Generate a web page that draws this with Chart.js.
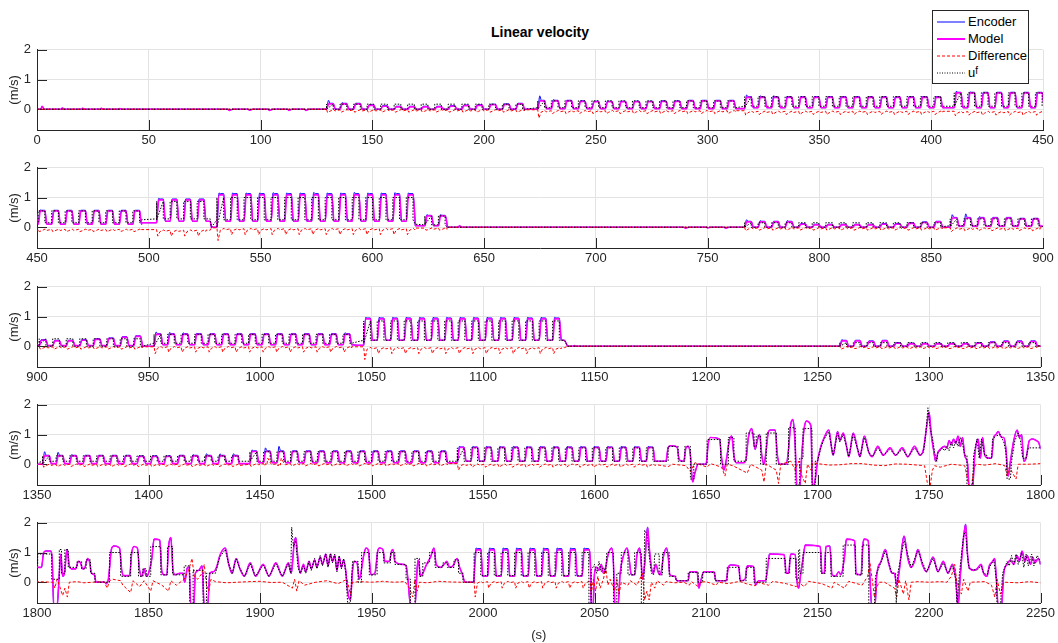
<!DOCTYPE html>
<html><head><meta charset="utf-8">
<script src="https://cdn.jsdelivr.net/npm/chart.js@4.4.0/dist/chart.umd.min.js"></script>
<style>
body{margin:0;background:#fff;width:1058px;height:643px;overflow:hidden;position:relative;font-family:"Liberation Sans",Arial,sans-serif;}
.pane{position:absolute;left:0;width:1058px;}
#title{position:absolute;left:0;width:1080px;top:24px;text-align:center;font-weight:bold;font-size:14px;color:#000;line-height:16px;}
#legend{position:absolute;left:932px;top:10px;width:97px;height:74px;box-sizing:border-box;border:1px solid #262626;background:#fff;font-size:13px;color:#000;padding-top:2px;z-index:5;}
#legend .row{height:17px;display:flex;align-items:center;white-space:nowrap;}
#legend svg{margin-left:4px;margin-right:3px;}
#legend sup{font-size:10px;position:relative;top:-2px;}
</style></head><body>
<div id="title">Linear velocity</div>
<div id="legend">
 <div class="row"><svg width="28" height="6"><line x1="0" y1="3" x2="28" y2="3" stroke="#0000ff" stroke-width="1"/></svg>Encoder</div>
 <div class="row"><svg width="28" height="6"><line x1="0" y1="3" x2="28" y2="3" stroke="#ff00ff" stroke-width="2"/></svg>Model</div>
 <div class="row"><svg width="28" height="6"><line x1="0" y1="3" x2="28" y2="3" stroke="#ff0000" stroke-width="1" stroke-dasharray="3,2"/></svg>Difference</div>
 <div class="row"><svg width="28" height="6"><line x1="0" y1="3" x2="28" y2="3" stroke="#000" stroke-width="1" stroke-dasharray="1,1.5"/></svg>u<sup>f</sup></div>
</div>
<div class="pane" id="p0"><canvas id="c0"></canvas></div>
<div class="pane" id="p1"><canvas id="c1"></canvas></div>
<div class="pane" id="p2"><canvas id="c2"></canvas></div>
<div class="pane" id="p3"><canvas id="c3"></canvas></div>
<div class="pane" id="p4"><canvas id="c4"></canvas></div>
<script>
// ---------- axes ----------
const panelRanges = [[0,450],[450,900],[900,1350],[1350,1800],[1800,2250]];
const xTickStep = 50;
const yTickValues = [0,1,2];
const yMin = -0.7, yMax = 2;

// ---------- repeated pulse blocks ----------
const pulsePeriod = 6.05;   // s between pulse starts
const pulseOn = 3.0;        // s the command stays high
const blockStart   = [129.5,224,316.5,410.3,450.5,503.5,530.5,623.5,766.5,858.5,901,952.5,1046.5,1260,1352.5,1445.5,1538.5,1996];
const blockCount   = [15,15,15,7,8,4,15,2,15,7,8,15,15,15,15,15,15,9];
const blockUfHigh  = [0.17,0.28,0.42,0.55,0.55,0.87,1.0,0.38,0.15,0.28,0.25,0.4,0.85,0.12,0.28,0.42,0.55,1.0];
const blockUfLow   = [0,0.05,0.1,0.1,0.15,0.28,0.25,0.08,0,0.05,0,0.1,0.2,0,0.1,0.1,0.1,0.22];
const blockEncLow  = [0,0.02,0.05,0.05,0.1,0.2,0.2,0.05,0,0.03,0.02,0.05,0.2,0,0.02,0.05,0.1,0.2];
const blockEncHold = [0.2,0.3,0.42,0.57,0.57,0.95,1.13,0.4,0.2,0.33,0.35,0.42,0.95,0.2,0.3,0.45,0.58,1.13];
const blockModelGap= [0.02,0.02,0.02,0.02,0.02,0.03,0.04,0.02,0.02,0.02,0.02,0.02,0.03,0.02,0.02,0.02,0.02,0.04];
const blockEncPeaks = [
 [0.3,0.22,0.2,0.15,0.12,0.1,0.1,0.1,0.1,0.12,0.14,0.15,0.17,0.18,0.2],
 [0.45,0.32,0.3,0.28,0.27,0.27,0.27,0.27,0.27,0.28,0.28,0.3,0.3,0.3,0.3],
 [0.48,0.45,0.45,0.43,0.42,0.42,0.42,0.42,0.42,0.42,0.42,0.42,0.42,0.42,0.42],
 [0.6,0.58,0.57,0.57,0.57,0.57,0.57],
 [0.58,0.57,0.57,0.57,0.57,0.57,0.57,0.57],
 [0.97,0.95,0.95,0.95],
 [1.15,1.15,1.15,1.15,1.16,1.15,1.15,1.17,1.15,1.15,1.17,1.15,1.15,1.16,1.15],
 [0.42,0.42],
 [0.25,0.22,0.2,0.22,0.12,0.1,0.1,0.1,0.1,0.1,0.12,0.12,0.15,0.18,0.2],
 [0.42,0.45,0.35,0.33,0.33,0.3,0.3],
 [0.22,0.2,0.2,0.22,0.25,0.28,0.32,0.35],
 [0.48,0.46,0.45,0.43,0.42,0.42,0.42,0.42,0.42,0.42,0.42,0.42,0.42,0.42,0.45],
 [0.97,0.97,0.97,0.97,0.97,0.97,0.97,0.97,0.97,0.97,0.97,0.97,0.97,0.97,0.97],
 [0.22,0.2,0.18,0.2,0.12,0.1,0.1,0.1,0.1,0.1,0.12,0.15,0.18,0.18,0.18],
 [0.42,0.4,0.32,0.3,0.3,0.3,0.3,0.28,0.28,0.28,0.3,0.32,0.35,0.35,0.35],
 [0.48,0.55,0.6,0.45,0.45,0.45,0.45,0.45,0.45,0.45,0.45,0.45,0.45,0.45,0.45],
 [0.6,0.6,0.6,0.6,0.6,0.6,0.6,0.6,0.6,0.6,0.6,0.6,0.6,0.6,0.6],
 [1.15,1.15,1.15,1.15,1.15,1.15,1.15,1.15,1.15]
];
const blockDiffBase     = [-0.02,-0.05,-0.07,-0.08,-0.07,-0.1,-0.05,-0.03,-0.02,-0.03,-0.02,-0.02,-0.05,-0.02,0,0.02,0,0.02];
const blockDiffDip      = [-0.1,-0.15,-0.18,-0.2,-0.15,-0.3,-0.25,-0.1,-0.1,-0.12,-0.1,-0.2,-0.25,-0.08,-0.08,-0.06,-0.1,-0.2];
const blockDiffFirstDip = [-0.12,-0.3,-0.2,-0.22,-0.15,-0.3,-0.45,-0.1,-0.12,-0.15,-0.1,-0.25,-0.45,-0.1,-0.1,-0.08,-0.2,-0.5];

// ---------- quiet stretches: [from, to, encoder, uf, difference] ----------
const flatFrom = [0,218.1,312.6,405.2,496.8,525.6,528,619.2,633.5,855.1,898.7,947.3,1041.1,1135.2,1138,1348.6,1440.6,1534.1];
const flatTo   = [129.5,224,316.5,410.3,503.5,527.5,530.5,623.5,766.5,858.5,901,952.5,1046.5,1136.5,1260,1352.5,1445.5,1538.5];
const flatEnc  = [0,0,0.02,0.05,0.15,0.2,0,0.05,0,0,0.03,0,0.03,0.2,0,0,0.02,0.05];
const flatUf   = [0,0,0.05,0.1,0.25,0.28,0,0.1,0,0.02,0.05,0,0.1,0.2,0,0,0.1,0.1];
const flatDiff = [0,-0.02,-0.05,-0.07,-0.08,-0.1,-0.02,-0.03,0,-0.02,-0.02,-0.02,-0.02,-0.05,0,0,0,0.02];

// ---------- free-running stretches traced point by point [t, value] ----------
const encTrace = [
[1.7,0],[2.3,0.1],[3.2,0],[10.7,0],[11.3,0.04],[12.3,0],[19.8,0],[20.4,0.03],[21.4,0],[28.1,0],[28.7,0.03],[29.7,0],[36.5,0],[37.1,0.02],[38.1,0],
[85.3,0],[86,-0.04],[87.5,0],[94.3,0],[95,-0.03],[96.5,0],[103.3,0],[104,-0.04],[105.5,0],[112,0],[112.7,-0.04],[114,0],[119.6,0],[120.3,-0.04],[121.6,0],
[638.4,0],[639,0.05],[640,0],[739.3,0],[740,-0.03],[741.5,0],[749.3,0],[750,-0.02],[751.5,0],[757.3,0],[758,-0.03],[759.5,0],[1140.4,0],[1141,0.02],[1142,0],
[1628,0.1],[1632,0.1],[1633,0.55],[1634,0.62],[1637,0.58],[1638,0.15],[1640,0.1],[1641,0.55],[1642,0.6],[1643,0.3],[1644,-0.6],[1645,-0.3],[1646.5,0],[1650,0],[1651,0.7],[1652,0.9],[1656,0.85],[1657,0.2],[1658,-0.2],[1659,0.1],[1660.5,0.8],[1661.5,0.95],[1662.5,0.3],[1663.5,0.05],[1667,0.05],[1668,0.2],[1669,0.9],[1670.5,1.2],[1672,0.5],[1673,0.8],[1674,1.0],[1675,0.3],[1676,0],[1677,0.5],[1678,1.1],[1679,1.15],[1681,1.15],[1682,0.3],[1683,0],[1686,0],[1687,0.5],[1688,1.35],[1689,1.5],[1690,0.6],[1690.8,-0.8],[1692,-0.8],[1693,0.4],[1694,1.2],[1695,1.45],[1697,1.3],[1697.8,-0.8],[1699,-0.5],[1700,0.1],[1701.5,0.6],[1703,0.9],[1705,1.15],[1707,0.3],[1709,1.1],[1710,0.8],[1711.5,1.05],[1713,0.6],[1714,0.25],[1716,1.05],[1718,0.5],[1719,0.25],[1721,0.95],[1723,0.4],[1724.5,0.25],[1727,0.6],[1729.5,0.3],[1732.5,0.55],[1735,0.3],[1738,0.55],[1740.5,0.25],[1743.5,0.6],[1746,0.3],[1747.5,0.5],[1749,1.3],[1750,1.75],[1751,1.0],[1752,0.5],[1753,0.1],[1754,0.4],[1755,0.5],[1757,0.6],[1758,0.55],[1759,0.8],[1760,0.65],[1761,0.85],[1762,0.7],[1763,0.95],[1764,0.6],[1765,0.9],[1766,0.3],[1767.3,0],[1768,-0.8],[1769.5,-0.8],[1770.5,0.3],[1772,0.85],[1773,0.2],[1774,0.9],[1775,0.3],[1777,0.2],[1778,0.2],[1779,0.9],[1780,1.0],[1781,1.1],[1782.5,0.9],[1783.5,0.9],[1784.5,0.5],[1785.5,-0.4],[1786.5,0.1],[1788,0.8],[1789.5,1.15],[1790.5,0.9],[1791.5,1.0],[1792.5,0.1],[1793.5,0.2],[1795,0.8],[1796.5,0.85],[1798,0.8],[1799,0.75],
[1800.5,0.5],[1802,0.5],[1803,1.0],[1804,1.05],[1806,1.05],[1806.8,0.8],[1807.5,-0.8],[1809,-0.8],[1810,0.3],[1810.7,0.95],[1811.5,0.2],[1812.3,0.3],[1813.5,1.1],[1814.5,0.55],[1815.5,0.45],[1817.4,0.45],[1818.5,0.7],[1819.5,0.65],[1820.5,0.45],[1821.5,0.5],[1822.7,0.8],[1823.5,0.7],[1824.5,0.3],[1825.7,0.25],[1826.5,0],[1830.5,0],[1831,-0.05],[1832,0.1],[1833.5,1.15],[1834.5,1.22],[1837,1.15],[1838,0.4],[1839,0.22],[1841.5,0.22],[1842.5,1.0],[1843.5,1.2],[1845,1.15],[1846,0.4],[1847,0.2],[1848,0.45],[1849,0.2],[1850,0.3],[1851.5,0.8],[1852.5,1.45],[1855,1.42],[1856,0.35],[1857,0.25],[1858.2,0.25],[1859,1.2],[1860,1.5],[1861,0.4],[1862,0.25],[1864,0.3],[1865.5,0.3],[1866.2,0],[1867.5,0.5],[1868.2,0.5],[1869,-0.8],[1870.3,-0.8],[1871,0.3],[1872.5,0.4],[1874,0.55],[1875,-0.8],[1876.5,-0.8],[1877.5,0.3],[1879,0.35],[1880.5,0.5],[1882,0.9],[1884.4,1.15],[1886,0.6],[1887.5,0.3],[1889.3,0.8],[1891,0.45],[1893,0.2],[1895.6,0.65],[1898,0.2],[1901.4,0.6],[1904,0.2],[1907.1,0.65],[1910,0.2],[1912.7,0.65],[1914,0.3],[1915.3,1.3],[1916,1.5],[1917,0.8],[1918,0.3],[1919.5,0.6],[1920.5,0.35],[1922,0.7],[1923,0.45],[1924.5,0.75],[1925.5,0.5],[1927,0.85],[1928,0.6],[1929.5,0.95],[1930.5,0.55],[1931.6,0.95],[1932.5,0.7],[1933.5,0.9],[1934.5,0.4],[1935.5,0.85],[1936.5,0.5],[1937.5,0.75],[1938.5,0.35],[1939.3,-0.3],[1940.5,-0.6],[1941.5,0.4],[1942.2,0.7],[1943.5,0.65],[1944.5,0.1],[1946.5,0.9],[1947.5,1.15],[1948.5,1.1],[1949.8,0.25],[1951.5,0.3],[1952.8,1.05],[1953.5,1.15],[1955.1,1.1],[1956,0.7],[1958,0.7],[1959,1.05],[1959.6,1.1],[1960.5,0.7],[1964,0.6],[1965.5,0.55],[1966.4,0.05],[1967.5,-0.8],[1969.5,-0.8],[1970.5,0.5],[1971,0.75],[1972,0.2],[1973,0.3],[1974.7,0.6],[1976.5,0.85],[1978,1.15],[1979,0.6],[1981,0.5],[1982.5,0.6],[1983.8,0.7],[1985,0.5],[1986.5,0.55],[1988.4,0.8],[1989.5,0.5],[1990.6,0.3],[1992,0],[1995.9,0],
[2048.5,-0.8],[2049.3,-0.8],[2050,0.3],[2051,0.5],[2052,0.4],[2053,0.6],[2054,0.3],[2055,0.5],[2056,0.9],[2057.7,1.15],[2058.5,0.6],[2059.2,-0.8],[2060.5,-0.8],[2061.5,0.3],[2063,0.9],[2064.6,1.15],[2065.5,0.8],[2066.5,0.25],[2068,0.25],[2069,0.9],[2070.2,1.15],[2071,0.6],[2071.5,0.1],[2072.5,0.6],[2073.8,1.85],[2074.5,1.2],[2075.5,0.5],[2076.3,0.3],[2077.5,0.6],[2078.5,0.35],[2079.5,0.25],[2081,0.9],[2082.2,1.15],[2083,0.9],[2083.8,0.25],[2086,0.2],[2087,0.05],[2092,0.05],[2092.5,0.3],[2093,0.35],[2096,0.35],[2096.8,-0.2],[2097.5,0],[2099,0.35],[2103.5,0.35],[2104.5,0.05],[2109,0.05],[2110,0.5],[2111,0.58],[2114.5,0.55],[2115.5,0.05],[2117.5,0.1],[2118.5,0.55],[2121.3,0.53],[2122.2,-0.1],[2123.5,0.05],[2126.7,0.05],[2127.5,0.4],[2128.5,0.95],[2135,0.93],[2136,0.3],[2137,0.3],[2138,0.95],[2140,0.93],[2140.7,0.1],[2141.5,-0.2],[2142.5,0.3],[2143.5,0.8],[2144.5,1.25],[2151.2,1.2],[2152,0.3],[2153,0.3],[2153.8,1.2],[2155.5,1.22],[2156.5,0.25],[2158,0.2],[2159.5,0.35],[2160.5,0.25],[2162,0.8],[2163,1.45],[2166.6,1.4],[2167.3,0.3],[2169.5,0.25],[2170.4,1.3],[2171,1.45],[2172.7,1.4],[2173.5,0.2],[2174.3,-0.8],[2175.8,-0.8],[2176.5,0.2],[2178.5,0.7],[2180.4,1.1],[2182,0.6],[2183.4,0.3],[2184.5,0.3],[2185.5,-0.1],[2186.5,0.3],[2188.8,1.55],[2190.5,0.8],[2192,0.5],[2193.5,0.7],[2195,1.1],[2197,0.6],[2198.8,0.35],[2201.8,0.85],[2204,0.35],[2206.4,0.7],[2208.5,0.3],[2210.5,0.6],[2212,0.1],[2213,-0.8],[2214,0.2],[2215.5,1.5],[2216.4,1.95],[2217.2,1.0],[2218,0.5],[2220,0.4],[2221.5,0.45],[2223.3,0.6],[2224.5,0.3],[2226,0.2],[2227,0.55],[2228.5,0.7],[2229.4,0.8],[2230.2,0.1],[2231,-0.8],[2232.5,-0.8],[2233.5,0.3],[2235,0.6],[2236.5,0.75],[2238,0.6],[2239.5,0.9],[2240.5,0.7],[2241.7,1.05],[2243,0.7],[2244,0.9],[2245.5,0.6],[2246.5,0.85],[2247.5,0.65],[2249,0.8],[2250,0.6]
];
const ufTrace = [
[1627.1,0.1],[1633,0.1],[1633,0.6],[1637.5,0.6],[1637.5,0.1],[1640.5,0.1],[1640.5,0.6],[1643,0.6],[1643,-0.5],[1644.5,-0.5],[1644.5,0],[1650.5,0],[1650.5,0.83],[1656.5,0.83],[1656.5,0],[1660,0],[1660,0.9],[1662.5,0.9],[1662.5,0.1],[1668,0.1],[1668,1.05],[1671.5,1.05],[1671.5,0.6],[1672.5,0.6],[1672.5,0.95],[1674.5,0.95],[1674.5,0],[1677,0],[1677,1.05],[1681.5,1.05],[1681.5,0],[1687,0],[1687,1.23],[1690,1.23],[1690,-0.7],[1692,-0.7],[1692,0.2],[1693.5,0.2],[1693.5,1.2],[1697.5,1.2],[1697.5,-0.7],[1699,-0.7],[1699,0.1],[1700,0.1],
[1701.5,0.55],[1703,0.85],[1705,1.1],[1707,0.3],[1709,1.05],[1710,0.75],[1711.5,1.0],[1713,0.6],[1714,0.25],[1716,1.0],[1718,0.5],[1719,0.25],[1721,0.9],[1723,0.4],[1724.5,0.25],[1727,0.55],[1729.5,0.3],[1732.5,0.5],[1735,0.3],[1738,0.5],[1740.5,0.25],[1743.5,0.55],[1746,0.3],[1747.5,0.4],[1748.5,1.0],[1749.5,1.9],[1750.5,1.2],[1751.5,0.9],[1752.5,0.4],[1753.5,0.1],[1754,0.4],[1755,0.45],[1756,0.55],[1757,0.45],[1758,0.6],[1759,0.45],[1760,0.75],[1761,0.55],[1762,0.8],[1763,0.6],[1764,0.9],[1765,0.7],[1766,0.3],[1767,0.3],[1767,-0.8],[1769.5,-0.8],[1770,0.3],[1771.5,0.85],[1772.5,0.2],[1773.5,0.85],[1775,0.3],[1776,0.3],[1776,0.2],[1778,0.2],[1778.5,0.85],[1780,0.95],[1782,1.0],[1783.5,0.75],[1784.5,0.4],[1785,-0.5],[1786.5,-0.5],[1787,0.1],[1788.5,0.8],[1790,1.05],[1791,0.8],[1792,0.2],[1793.5,0.2],[1794.5,0.55],[1800.3,0.55],
[1800.3,0.95],[1806.6,0.95],[1806.6,0.1],[1810,0.1],[1810,1.1],[1811,1.1],[1811,0.3],[1812.5,0.3],[1812.5,1.1],[1814,1.1],[1814,0.5],[1818,0.5],[1818,0.7],[1820,0.7],[1820,0.45],[1822,0.45],[1822,0.75],[1824,0.75],[1824,0.3],[1826,0.3],[1826,0],[1832.5,0],[1832.5,1.0],[1837.5,1.0],[1837.5,0.2],[1842,0.2],[1842,1.0],[1845.5,1.0],[1845.5,0.2],[1847.5,0.2],[1847.5,0.45],[1849,0.45],[1849,0.2],[1851,0.2],[1851,1.2],[1855.5,1.2],[1855.5,0.25],[1858.5,0.25],[1858.5,1.2],[1860.8,1.2],[1860.8,0.25],[1866,0.25],[1866,0.55],[1868.5,0.55],[1868.5,-0.8],[1870,-0.8],[1870,0.4],[1874.5,0.4],[1874.5,-0.8],[1876,-0.8],[1876,0.3],[1880,0.3],
[1882,0.85],[1884.4,1.1],[1886,0.6],[1887.5,0.3],[1889.3,0.78],[1891,0.45],[1893,0.2],[1895.6,0.62],[1898,0.2],[1901.4,0.58],[1904,0.2],[1907.1,0.62],[1910,0.2],[1912.7,0.62],[1913.8,0.3],[1914.2,1.85],[1915,1.2],[1916,1.4],[1917,0.5],[1918,0.3],[1919.5,0.55],[1920.5,0.3],[1922,0.7],[1923,0.4],[1924.5,0.8],[1925.5,0.45],[1927,0.9],[1928,0.55],[1929.5,0.95],[1930.5,0.5],[1931.6,0.95],[1932.5,0.65],[1933.5,0.95],[1934.5,0.35],[1935.5,0.9],[1936.5,0.45],[1937.5,0.8],[1938.5,0.3],[1939.3,-0.7],[1940.5,-0.7],[1941.5,0.7],[1944,0.7],[1944,0],[1945.5,0],[1945.5,1.0],[1949,1.0],[1949,0.25],[1952.5,0.25],[1952.5,1.0],[1955.5,1.0],[1955.5,0.65],[1958.5,0.65],[1958.5,1.0],[1960.5,1.0],[1960.5,0.6],[1965.5,0.6],[1965.5,0.1],[1967.5,0.1],[1967.5,-0.8],[1969.5,-0.8],[1969.5,0.8],[1971.5,0.8],[1971.5,0.2],[1973,0.2],[1973,0.65],[1976,0.65],[1976,1.0],[1978.5,1.0],[1978.5,0.5],[1982,0.5],[1982,0.65],[1984,0.65],[1984,0.5],[1987,0.5],[1987,0.75],[1989,0.75],[1989,0.3],[1991,0.3],[1991,0],[1995.9,0],
[2047.5,0.22],[2047.5,-0.8],[2048.5,-0.8],[2048.5,0.4],[2050,0.6],[2051,0.3],[2052,0.7],[2053,0.35],[2054,0.5],[2055,0.3],[2055.5,1.0],[2058.5,1.0],[2058.5,-0.8],[2060,-0.8],[2060,0.3],[2062,0.3],[2062,1.0],[2065,1.0],[2065,0.25],[2068,0.25],[2068,1.0],[2071,1.0],[2071,-0.8],[2072,-0.8],[2072.5,1.75],[2073.5,1.6],[2074.5,0.9],[2075.5,0.3],[2076.5,0.25],[2077,0.95],[2079,0.95],[2079,0.25],[2080.5,0.25],[2080.5,1.0],[2083.5,1.0],[2083.5,0.2],[2086.5,0.2],[2086.5,0.05],[2092,0.05],[2092,0.33],[2096.5,0.33],[2096.5,0],[2098.5,0],[2098.5,0.33],[2104,0.33],[2104,0.05],[2109.5,0.05],[2109.5,0.5],[2115,0.5],[2115,0.05],[2118,0.05],[2118,0.5],[2121.5,0.5],[2121.5,0],[2127,0],[2127,0.8],[2135.5,0.8],[2135.5,0.3],[2137.5,0.3],[2137.5,0.8],[2140.3,0.8],[2140.3,0.1],[2141.5,0.1],[2141.5,1.1],[2142,1.1],[2142,0.3],[2143.5,0.3],[2143.5,1.0],[2151.5,1.0],[2151.5,0.3],[2153.5,0.3],[2153.5,1.0],[2156,1.0],[2156,0.2],[2161.5,0.2],[2161.5,1.25],[2167,1.25],[2167,0.25],[2170,0.25],[2170,1.25],[2173,1.25],[2173,-0.8],[2175.5,-0.8],[2176,0.2],
[2180.4,1.05],[2183.4,0.3],[2185,0.3],[2185.3,-0.7],[2186,0.3],[2188.8,1.4],[2192,0.5],[2195,1.05],[2198.8,0.35],[2201.8,0.8],[2204,0.35],[2206.4,0.65],[2208.5,0.3],[2210.5,0.55],[2212,0.1],[2212.5,-0.8],[2213.5,0.2],[2215.5,1.6],[2216.4,1.7],[2217.2,0.9],[2218,0.45],[2221.5,0.4],[2223.3,0.55],[2224.5,0.3],[2226,0.25],[2227,0.5],[2229,0.75],[2230.2,0.1],[2230.5,-0.8],[2232,-0.8],[2233,0.3],[2235,0.7],[2236,0.55],[2237,0.9],[2238,0.6],[2239,0.95],[2240,0.6],[2241.5,1.0],[2242.5,0.5],[2243.5,0.95],[2244.5,0.55],[2246,0.95],[2247,0.55],[2248.5,0.9],[2250,0.7]
];
const diffTrace = [
[1452.5,0.02],[1453.5,0.2],[1455,0.02],[1458.5,0.02],[1459.5,0.2],[1461,0.02],
[1628,-0.02],[1633,-0.08],[1635,0],[1641,-0.05],[1643,-0.25],[1645,0.05],[1650.5,-0.1],[1652,0.02],[1657,-0.1],[1658.5,-0.4],[1659.5,0],[1662,-0.05],[1668.5,-0.3],[1670,0],[1675,-0.2],[1676,-0.6],[1677,0],[1681.5,-0.2],[1682.5,-0.65],[1683.5,0],[1688,0.1],[1690,-0.2],[1691.5,0.1],[1693,-0.4],[1694.5,-0.65],[1695.5,0],[1697,-0.2],[1698,0.05],[1700,0.02],[1705,-0.03],[1710,-0.02],[1715,0.02],[1720,0.02],[1725,-0.03],[1730,-0.05],[1735,0.01],[1740,0],[1748,-0.05],[1749.5,-0.75],[1750.5,-0.75],[1751.5,-0.2],[1752.5,-0.05],[1755,-0.1],[1760,0],[1766,-0.05],[1768,-0.75],[1769,-0.75],[1770,-0.2],[1771,0],[1775,-0.03],[1780,0.02],[1784,-0.05],[1785,-0.4],[1786,-0.1],[1789,-0.5],[1790,0],[1795,0],[1800,0.02],
[1807,0],[1808,-0.2],[1809,0.1],[1810,-0.1],[1811.5,-0.45],[1812.5,-0.2],[1813.6,-0.5],[1814.5,0],[1818,0.02],[1821,-0.02],[1825,0],[1830,0.02],[1831.5,-0.2],[1832.5,0.05],[1834,0.1],[1837.5,0.05],[1838.5,-0.1],[1842,-0.35],[1843,0.05],[1846,-0.15],[1848,0.05],[1851,-0.3],[1852,0.05],[1856,-0.1],[1859,-0.3],[1860,0.05],[1862.5,-0.1],[1866,0.1],[1868,0.4],[1869.5,0.8],[1870.5,0.2],[1872,0.1],[1874,0.3],[1875,0.6],[1876,-0.1],[1877,-0.3],[1878,0.1],[1880,0.02],[1885,-0.02],[1890,0],[1895,0.02],[1900,0.03],[1905,-0.01],[1910,0],[1914.5,-0.2],[1915.5,0.1],[1916.5,-0.3],[1917.5,0.05],[1920,-0.1],[1925,0],[1930,0.05],[1935,-0.05],[1939,0.1],[1940.5,-0.4],[1941.5,0],[1945,0.02],[1950,0],[1955,0.03],[1960,0],[1965,0.02],[1967,-0.2],[1968.5,-0.5],[1969.5,0.1],[1970.5,-0.3],[1971.5,0],[1975,-0.02],[1980,0.03],[1985,0.01],[1990,0],[1995,0],
[2048.5,-0.4],[2049.5,0.1],[2050.5,-0.3],[2051.5,0.2],[2052.5,-0.2],[2054,0.1],[2055,0.5],[2056,-0.1],[2057,0.1],[2059,-0.3],[2060,0.1],[2061,-0.4],[2062,0],[2065,-0.1],[2066,0.05],[2069,-0.1],[2070,0.05],[2071.5,0.3],[2072.5,-0.6],[2073.5,-0.3],[2074.5,-0.6],[2075.5,0],[2077,-0.2],[2078,0.05],[2081,-0.1],[2082,0.02],[2086,-0.02],[2090,0],[2092.5,-0.1],[2093.5,0.02],[2096.5,-0.15],[2097.5,0],[2100,0.02],[2104.5,-0.1],[2105.5,0],[2110,-0.05],[2115,0.03],[2118,-0.05],[2122,-0.12],[2123,0],[2128,-0.1],[2130,0.03],[2136,-0.05],[2140.5,-0.15],[2141.5,0],[2144,-0.15],[2146,0.03],[2152,-0.05],[2156.5,-0.2],[2157.5,0],[2162,-0.2],[2164,0.03],[2170,-0.1],[2172.5,0.2],[2173.5,0.65],[2174.5,0.1],[2175.5,-0.5],[2176.5,-0.2],[2177.5,0],[2180,0],[2184.5,-0.2],[2185.5,-0.5],[2186.5,0.1],[2188.5,-0.4],[2189.5,0.05],[2191,-0.6],[2192,0],[2195,0.02],[2200,0],[2205,0.02],[2208,0],[2210,0.2],[2211.5,0.6],[2212.5,0],[2214.5,-0.4],[2215.5,0.1],[2217.5,-0.3],[2218.5,0],[2225,0.02],[2228,-0.1],[2229.5,-0.5],[2230.5,0.1],[2232,-0.4],[2233.5,0],[2240,-0.02],[2245,0.02],[2250,-0.02]
];

// ---------- assemble series from the tables ----------
const enc=[], mod=[], uf=[], dif=[];
for (let b=0;b<blockStart.length;b++){
  const pk = blockEncPeaks[b];
  for (let i=0;i<blockCount[b];i++){
    const s = blockStart[b] + i*pulsePeriod;
    const lo = blockEncLow[b];
    const p = pk[Math.min(i,pk.length-1)];
    const hold = Math.min(p, blockEncHold[b]);
    const mTop = hold - blockModelGap[b];
    enc.push([s,lo],[s+0.9,p],[s+1.6,hold],[s+3.0,hold],[s+3.9,lo]);
    mod.push([s+0.05,lo],[s+1.0,mTop],[s+3.0,mTop],[s+3.95,lo]);
    uf.push([s,blockUfLow[b]],[s,blockUfHigh[b]],[s+pulseOn,blockUfHigh[b]],[s+pulseOn,blockUfLow[b]]);
    const base = blockDiffBase[b], dip = i===0 ? blockDiffFirstDip[b] : blockDiffDip[b];
    dif.push([s,base],[s+0.5,dip],[s+1.5,base-0.05],[s+3.2,base+0.01],[s+3.8,base-0.04]);
  }
}
for (let f=0;f<flatFrom.length;f++){
  enc.push([flatFrom[f],flatEnc[f]],[flatTo[f],flatEnc[f]]);
  mod.push([flatFrom[f]+0.05,flatEnc[f]],[flatTo[f]-0.05,flatEnc[f]]);
  uf.push([flatFrom[f],flatUf[f]],[flatTo[f],flatUf[f]]);
  dif.push([flatFrom[f],flatDiff[f]],[flatTo[f],flatDiff[f]]);
}
encTrace.forEach(p=>{enc.push(p); mod.push(p);});
ufTrace.forEach(p=>uf.push(p));
diffTrace.forEach(p=>dif.push(p));

function prep(arr, strict){
  const s = arr.map((p,k)=>({x:p[0],y:p[1],k})).sort((a,b)=>a.x-b.x||a.k-b.k);
  const out=[];
  for (const p of s){
    if (strict && out.length && p.x - out[out.length-1].x < 0.02) { out[out.length-1].y = p.y; continue; }
    out.push({x:p.x,y:p.y});
  }
  return out;
}
const ENC = prep(enc,true), MOD = prep(mod,true), UF = prep(uf,false), DIF = prep(dif,true);

// ---------- drawing ----------
const FONT = '"Liberation Sans", Arial, sans-serif';
const AX = '#262626', GRID = '#e3e3e3';
const panelTop = [44,162,281,399,517];
const PADTOP = 8, PLOTH = 86;

const inwardTicks = {
  id:'inwardTicks',
  beforeDatasetsDraw(chart){
    const {ctx, chartArea:a, scales:{x,y}} = chart;
    ctx.save(); ctx.strokeStyle = AX; ctx.lineWidth = 1; ctx.beginPath();
    x.ticks.forEach(t=>{const px=Math.round(x.getPixelForValue(t.value))+0.5; ctx.moveTo(px,a.bottom); ctx.lineTo(px,a.bottom-10);});
    y.ticks.forEach(t=>{const py=Math.round(y.getPixelForValue(t.value))+0.5; ctx.moveTo(a.left,py); ctx.lineTo(a.left+10,py);});
    ctx.stroke(); ctx.restore();
  }
};

panelRanges.forEach((rng,i)=>{
  const last = i===panelRanges.length-1;
  const xh = last ? 40 : 24;
  const H = PADTOP + PLOTH + xh;
  const div = document.getElementById('p'+i);
  div.style.top = (panelTop[i]-PADTOP)+'px';
  div.style.height = H+'px';
  const cv = document.getElementById('c'+i);
  cv.width = 1058; cv.height = H;
  const lo = rng[0]-10, hi = rng[1]+10;
  const sel = d => d.filter(p=>p.x>=lo && p.x<=hi).map(p=>({x:p.x,y:p.y}));
  new Chart(cv, {
    type:'line',
    data:{datasets:[
      {label:'u^f', data:sel(UF), borderColor:'#000', borderWidth:1, borderDash:[1.5,1.5], pointRadius:0, tension:0},
      {label:'Difference', data:sel(DIF), borderColor:'#ff0000', borderWidth:1, borderDash:[3,2], pointRadius:0, tension:0},
      {label:'Model', data:sel(MOD), borderColor:'#ff00ff', borderWidth:1.6, pointRadius:0, cubicInterpolationMode:'monotone'},
      {label:'Encoder', data:sel(ENC), borderColor:'#0000ff', borderWidth:1, pointRadius:0, cubicInterpolationMode:'monotone'}
    ]},
    options:{
      responsive:false, animation:false, parsing:false, normalized:true,
      layout:{padding:{top:PADTOP, right:15, left:0, bottom:0}},
      plugins:{legend:{display:false}, tooltip:{enabled:false}},
      scales:{
        x:{type:'linear', min:rng[0], max:rng[1],
           afterBuildTicks:s=>{const t=[];for(let v=rng[0];v<=rng[1];v+=xTickStep)t.push({value:v});s.ticks=t;},
           afterFit:s=>{s.height=xh;},
           ticks:{maxRotation:0, autoSkip:false, color:AX, font:{family:FONT,size:13}, padding:3, callback:v=>String(v)},
           grid:{color:GRID, drawTicks:false, lineWidth:1},
           border:{display:true, color:AX, width:1},
           title:{display:last, text:'(s)', color:AX, font:{family:FONT,size:13}, padding:{top:2,bottom:0}}},
        y:{type:'linear', min:yMin, max:yMax,
           afterBuildTicks:s=>{s.ticks=yTickValues.map(v=>({value:v}));},
           afterFit:s=>{s.width=37;},
           ticks:{color:AX, font:{family:FONT,size:13}, padding:6, callback:v=>String(v)},
           grid:{color:GRID, drawTicks:false, lineWidth:1},
           border:{display:true, color:AX, width:1},
           title:{display:true, text:'(m/s)', color:AX, font:{family:FONT,size:13}, padding:{top:7,bottom:0}}}
      }
    },
    plugins:[inwardTicks]
  });
});
</script>
</body></html>
